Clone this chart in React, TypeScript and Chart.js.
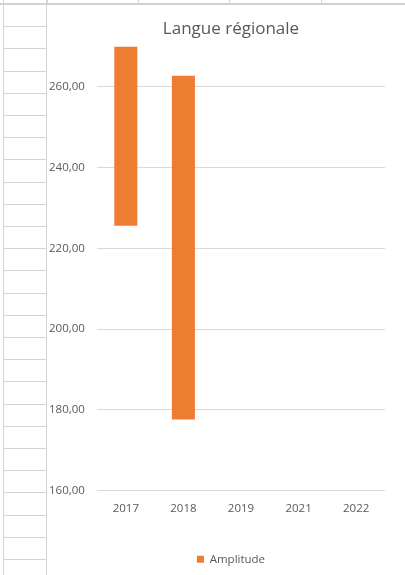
import React, { useEffect, useRef } from "react";
import { Chart, registerables } from "chart.js";

Chart.register(...registerables);

const categories = ["2017", "2018", "2019", "2021", "2022"];
const lowValues: (number | null)[] = [225.6, 177.6, null, null, null];
const highValues: (number | null)[] = [270, 262.7, null, null, null];
const seriesName = "Amplitude";
const chartTitle = "Langue régionale";
const yMin = 160;
const yMax = 270;
const yStep = 20;

const ORANGE = "#ED7D31";
const TEXT = "#595959";
const FONT = "'Open Sans', 'Liberation Sans', sans-serif";

function SheetBackground() {
  const rows: React.ReactNode[] = [];
  for (let y = 4; y < 575; y += 22.2) {
    rows.push(
      <div key={"r" + y} style={{ position: "absolute", left: 3, top: Math.round(y), width: 44, height: 1, background: "#d4d4d4" }} />
    );
  }
  const cols = [47, 138, 229, 321];
  return (
    <>
      <div style={{ position: "absolute", left: 0, top: 3, width: 405, height: 2, background: "#d0d0d0" }} />
      <div style={{ position: "absolute", left: 3, top: 0, width: 1, height: 575, background: "#d4d4d4" }} />
      <div style={{ position: "absolute", left: 46, top: 0, width: 1, height: 575, background: "#d4d4d4" }} />
      {cols.map((x) => (
        <div key={"c" + x} style={{ position: "absolute", left: x, top: 0, width: 1, height: 4, background: "#d4d4d4" }} />
      ))}
      {rows}
    </>
  );
}

export default function App() {
  const ref = useRef<HTMLCanvasElement | null>(null);
  useEffect(() => {
    if (!ref.current) return;
    const data = categories.map((_, i) =>
      lowValues[i] == null || highValues[i] == null ? null : [lowValues[i] as number, highValues[i] as number]
    );
    const chart = new Chart(ref.current, {
      type: "bar",
      data: {
        labels: categories,
        datasets: [
          {
            label: seriesName,
            data: data as any,
            backgroundColor: ORANGE,
            borderWidth: 0,
            barPercentage: 0.4,
            categoryPercentage: 1,
          },
        ],
      },
      options: {
        animation: false,
        responsive: false,
        maintainAspectRatio: false,
        layout: { padding: { top: 0, right: 20, bottom: 0, left: 29 } },
        plugins: {
          title: {
            display: true,
            text: chartTitle,
            color: TEXT,
            font: { family: FONT, size: 17, weight: "normal" },
            padding: { top: 13, bottom: 7 },
          },
          legend: {
            position: "bottom",
            labels: {
              boxWidth: 7,
              boxHeight: 7,
              color: TEXT,
              font: { family: FONT, size: 11.5 },
              padding: 6,
            },
          },
          tooltip: { enabled: false },
        },
        scales: {
          x: {
            grid: { display: false },
            border: { display: false },
            ticks: { color: TEXT, font: { family: FONT, size: 11.5 }, padding: 3 },
            afterFit: (s: any) => {
              s.height = 57;
            },
          },
          y: {
            min: yMin,
            max: yMax,
            grid: { color: "#d9d9d9", drawTicks: false },
            border: { display: false },
            ticks: {
              stepSize: yStep,
              includeBounds: false,
              mirror: true,
              color: TEXT,
              font: { family: FONT, size: 11.5 },
              padding: -48,
              callback: (v: any) => Number(v).toFixed(2).replace(".", ","),
            },
            afterFit: (s: any) => {
              s.width = 20;
            },
          },
        },
      },
    });
    return () => chart.destroy();
  }, []);
  return (
    <div style={{ position: "fixed", left: 0, top: 0, width: 405, height: 575, background: "#fff", overflow: "hidden" }}>
      <SheetBackground />
      <canvas ref={ref} width={357} height={569} style={{ position: "absolute", left: 48, top: 6, width: 357, height: 569 }} />
    </div>
  );
}
